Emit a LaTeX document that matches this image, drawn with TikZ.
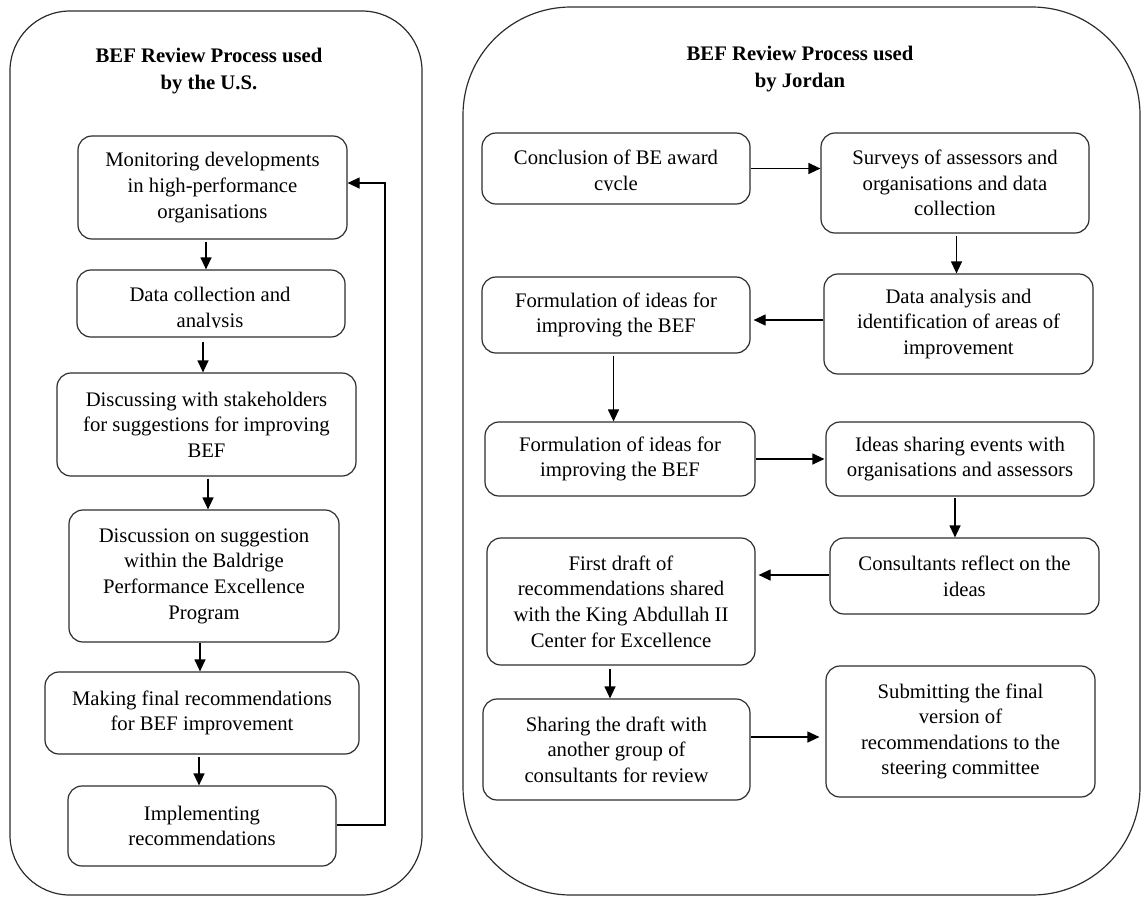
\documentclass[tikz,border=0pt]{standalone}
\usepackage{fontspec}
\setmainfont{Liberation Serif}
\usetikzlibrary{arrows.meta}
\definecolor{linegray}{RGB}{45,45,45}

\begin{document}
\begin{tikzpicture}[x=1pt,y=-1pt,
  frame/.style={draw=linegray, line width=1.2pt},
  stepbox/.style={draw=linegray, line width=1.2pt, rounded corners=14pt,
    align=center, inner sep=0pt,
    font=\fontsize{20.7}{25.6}\selectfont},
  plain/.style={inner sep=0pt, font=\fontsize{20.7}{25.6}\selectfont},
  flow/.style={draw=black, line width=1.2pt,
    -{Triangle[length=12pt,width=11pt]}},
  heading/.style={align=center, inner sep=0pt,
    font=\fontsize{20.7}{26.5}\selectfont\bfseries}
]
\useasboundingbox (0,0) rectangle (1142,898);

% the two panels
\draw[frame, rounded corners=60pt] (10,11) rectangle (422,895);
\draw[frame, rounded corners=108pt] (463,7) rectangle (1140,895);

\node[heading] (tl) at (209,71) {BEF Review Process used\\by the U.S.};
\node[heading] (tr) at (800,69) {BEF Review Process used\\by Jordan};

% ---------- U.S. process ----------
\node[stepbox, minimum width=269pt, minimum height=103pt] (l1) at (212.5,187.5)
  {Monitoring developments\\in high-performance\\organisations};
\node[stepbox, minimum width=268pt, minimum height=67pt] (l2) at (211,303.5) {};
\begin{scope}
  \clip (78,271) rectangle (344,327.6);
  \node[plain, anchor=base] (l2a) at (210,301) {Data collection and};
  \node[plain, anchor=base] (l2b) at (210,327) {analysis};
\end{scope}
\node[stepbox, minimum width=299pt, minimum height=103pt] (l3) at (206.5,424.5)
  {Discussing with stakeholders\\for suggestions for improving\\BEF};
\node[stepbox, minimum width=270pt, minimum height=132pt] (l4) at (204,576)
  {Discussion on suggestion\\within the Baldrige\\Performance Excellence\\Program};
\node[stepbox, minimum width=314pt, minimum height=82pt] (l5) at (202,713)
  {Making final recommendations\\for BEF improvement};
\node[stepbox, minimum width=268pt, minimum height=80pt] (l6) at (202,826)
  {Implementing\\recommendations};
\coordinate (fb) at (385,0);

\draw[flow, shorten <=2pt] (206,0 |- l1.south) -- (206,0 |- l2.north);
\draw[flow, shorten <=4pt] (203,0 |- l2.south) -- (203,0 |- l3.north);
\draw[flow, shorten <=2pt] (208,0 |- l3.south) -- (208,0 |- l4.north);
\draw[flow] (200,0 |- l4.south) -- (200,0 |- l5.north);
\draw[flow, shorten <=2pt] (199,0 |- l5.south) -- (199,0 |- l6.north);
\draw[flow] (l6.east |- 0,825) -- (fb |- 0,825) -- (fb |- 0,183) -- (l1.east |- 0,183);

% ---------- Jordan process ----------
\node[stepbox, minimum width=268pt, minimum height=71pt] (r1) at (616,168.5) {};
\begin{scope}
  \clip (483,134) rectangle (749,190.6);
  \node[plain, anchor=base] (r1a) at (616,164) {Conclusion of BE award};
  \node[plain, anchor=base] (r1b) at (616,190) {cycle};
\end{scope}
\node[stepbox, minimum width=268pt, minimum height=100pt] (r2) at (955,183)
  {Surveys of assessors and\\organisations and data\\collection};
\node[stepbox, minimum width=269pt, minimum height=100pt] (r3) at (958.5,324)
  {Data analysis and\\identification of areas of\\improvement};
\node[stepbox, minimum width=268pt, minimum height=76pt] (r4) at (616,315)
  {Formulation of ideas for\\improving the BEF};
\node[stepbox, minimum width=270pt, minimum height=74pt] (r5) at (620,459)
  {Formulation of ideas for\\improving the BEF};
\node[stepbox, minimum width=268pt, minimum height=74pt] (r6) at (960,459)
  {Ideas sharing events with\\organisations and assessors};
\node[stepbox, minimum width=269pt, minimum height=76pt] (r7) at (964.5,576)
  {Consultants reflect on the\\ideas};
\node[stepbox, minimum width=268pt, minimum height=127pt] (r8) at (621,601.5)
  {First draft of\\recommendations shared\\with the King Abdullah II\\Center for Excellence};
\node[stepbox, minimum width=267pt, minimum height=101pt] (r9) at (616.5,749.5)
  {Sharing the draft with\\another group of\\consultants for review};
\node[stepbox, minimum width=269pt, minimum height=131pt] (r10) at (960.5,731.5)
  {Submitting the final\\version of\\recommendations to the\\steering committee};

\draw[flow] (r1.east) -- (r1.east -| r2.west);
\draw[flow, shorten <=2pt] (956.5,0 |- r2.south) -- (956.5,0 |- r3.north);
\draw[flow, shorten >=3pt] (r3.west |- 0,320) -- (r4.east |- 0,320);
\draw[flow, shorten <=2pt] (613.5,0 |- r4.south) -- (613.5,0 |- r5.north);
\draw[flow, shorten >=1pt] (r5.east) -- (r5.east -| r6.west);
\draw[flow, shorten <=1pt] (955,0 |- r6.south) -- (955,0 |- r7.north);
\draw[flow, shorten >=3pt] (r7.west |- 0,575) -- (r8.east |- 0,575);
\draw[flow, shorten <=3pt] (610,0 |- r8.south) -- (610,0 |- r9.north);
\draw[flow, shorten >=6pt] (r9.east |- 0,737) -- (r10.west |- 0,737);

\end{tikzpicture}
\end{document}
